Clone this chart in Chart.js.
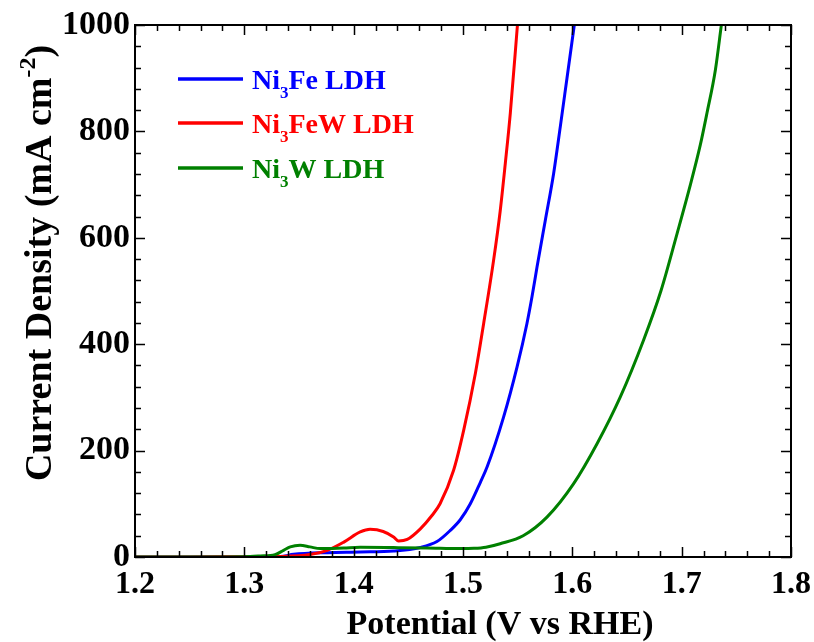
<!DOCTYPE html>
<html><head><meta charset="utf-8">
<script src="https://cdn.jsdelivr.net/npm/chart.js@4"></script>
<style>html,body{margin:0;padding:0;background:#fff}#wrap{width:814px;height:642px;position:relative}</style>
</head><body><div id="wrap"><canvas id="c" width="814" height="642"></canvas></div>
<script>
// ---- data ----
const seriesNames = ["Ni3Fe LDH", "Ni3FeW LDH", "Ni3W LDH"];
const seriesColors = ["#0000FF", "#FF0000", "#008000"];

const ni3fePotential = [1.20, 1.25, 1.30, 1.333, 1.345, 1.376, 1.406, 1.4365, 1.461, 1.4762, 1.4884, 1.4975, 1.5067, 1.5158, 1.522, 1.5371, 1.5494, 1.5585, 1.5631, 1.5677, 1.5753, 1.5829, 1.589, 1.5951, 1.6018];
const ni3feCurrent   = [0, 0, 0.5, 1, 5, 8.2, 9.4, 11.3, 18, 29, 50, 70, 100, 140, 169, 263, 357, 439, 489, 545, 633, 721, 809, 900, 1000];

const ni3fewPotential = [1.20, 1.25, 1.30, 1.333, 1.36, 1.376, 1.391, 1.406, 1.415, 1.427, 1.4365, 1.441, 1.449, 1.461, 1.4716, 1.479, 1.4914, 1.5006, 1.5113, 1.5189, 1.528, 1.534, 1.5387, 1.5433, 1.5498];
const ni3fewCurrent   = [0, 0, 0.5, 1, 4.5, 12.6, 28, 47, 52, 48, 37.6, 30, 33, 53, 78, 100, 163, 238, 345, 439, 558, 650, 740, 835, 1000];

const ni3wPotential = [1.20, 1.25, 1.30, 1.3146, 1.328, 1.3359, 1.342, 1.351, 1.36, 1.3694, 1.3908, 1.406, 1.4365, 1.467, 1.4975, 1.51, 1.521, 1.534, 1.555, 1.5768, 1.6012, 1.6226, 1.6439, 1.6652, 1.681, 1.6958, 1.708, 1.7171, 1.7232, 1.7308, 1.7363];
const ni3wCurrent   = [0, 0, 0.5, 2, 4.5, 12.6, 19, 22, 19, 15.8, 17, 18.2, 17.7, 17, 15.8, 16.3, 18.5, 25, 40, 75, 138, 213, 301, 408, 500, 608, 700, 775, 835, 915, 1000];

const xTickLabels = ["1.2", "1.3", "1.4", "1.5", "1.6", "1.7", "1.8"];
const yTickLabels = ["0", "200", "400", "600", "800", "1000"];
const xTitle = "Potential (V vs RHE)";
const yTitleMain = "Current Density (mA cm";
const yTitleSup = "-2";
const yTitleEnd = ")";

// ---- chart ----
const FONT = "'Liberation Serif', 'Times New Roman', serif";
function pts(xs, ys) { return xs.map((x, i) => ({ x: x, y: ys[i] })); }

const datasets = [
  { label: seriesNames[0], data: pts(ni3fePotential, ni3feCurrent), borderColor: seriesColors[0], order: 2 },
  { label: seriesNames[1], data: pts(ni3fewPotential, ni3fewCurrent), borderColor: seriesColors[1], order: 1 },
  { label: seriesNames[2], data: pts(ni3wPotential, ni3wCurrent), borderColor: seriesColors[2], order: 0 }
].map(d => Object.assign(d, { borderWidth: 3, pointRadius: 0, fill: false, cubicInterpolationMode: 'monotone', backgroundColor: d.borderColor }));

function drawRich(ctx, parts, x, y, size) {
  let cx = x;
  for (const p of parts) {
    if (p.mode === 'n') {
      ctx.font = "bold " + size + "px " + FONT;
      ctx.fillText(p.t, cx, y);
    } else {
      const s = Math.round(size * 0.62);
      ctx.font = "bold " + s + "px " + FONT;
      ctx.fillText(p.t, cx, p.mode === 'sub' ? y + size * 0.33 : y - size * 0.42);
    }
    cx += ctx.measureText(p.t).width;
  }
  return cx - x;
}
function measureRich(ctx, parts, size) {
  let w = 0;
  for (const p of parts) {
    ctx.font = "bold " + (p.mode === 'n' ? size : Math.round(size * 0.62)) + "px " + FONT;
    w += ctx.measureText(p.t).width;
  }
  return w;
}
function chemParts(name) {
  const out = [];
  const re = /([A-Za-z])(\d+)/g;
  let last = 0, m;
  while ((m = re.exec(name)) !== null) {
    out.push({ t: name.slice(last, m.index + 1), mode: 'n' });
    out.push({ t: m[2], mode: 'sub' });
    last = m.index + m[0].length;
  }
  out.push({ t: name.slice(last), mode: 'n' });
  return out.filter(p => p.t.length);
}

const decor = {
  id: 'decor',
  afterDraw(chart) {
    const ctx = chart.ctx, a = chart.chartArea;
    const xs = chart.scales.x, ys = chart.scales.y;
    ctx.save();
    ctx.strokeStyle = '#000';
    ctx.lineWidth = 1.5;
    ctx.beginPath();
    for (let i = 0; i <= 30; i++) {
      const v = 1.2 + i * 0.02;
      const px = Math.round(xs.getPixelForValue(v)) + 0.5;
      const len = (i % 5 === 0) ? 10 : 6;
      ctx.moveTo(px, a.bottom); ctx.lineTo(px, a.bottom - len);
      ctx.moveTo(px, a.top); ctx.lineTo(px, a.top + len);
    }
    for (let i = 0; i <= 25; i++) {
      const v = i * 40;
      const py = Math.round(ys.getPixelForValue(v)) + 0.5;
      const len = (i % 5 === 0) ? 10 : 6;
      ctx.moveTo(a.left, py); ctx.lineTo(a.left + len, py);
      ctx.moveTo(a.right, py); ctx.lineTo(a.right - len, py);
    }
    ctx.stroke();
    ctx.lineWidth = 2;
    ctx.strokeRect(a.left, a.top, a.right - a.left, a.bottom - a.top);

    // x title
    ctx.fillStyle = '#000';
    ctx.textAlign = 'left';
    ctx.textBaseline = 'alphabetic';
    ctx.font = "bold 34px " + FONT;
    const xw = ctx.measureText(xTitle).width;
    ctx.fillText(xTitle, 500 - xw / 2, 634);

    // y title (rotated)
    const yParts = [{ t: yTitleMain, mode: 'n' }, { t: yTitleSup, mode: 'sup' }, { t: yTitleEnd, mode: 'n' }];
    const ySize = 38;
    const yw = measureRich(ctx, yParts, ySize);
    ctx.save();
    ctx.translate(51, 263);
    ctx.rotate(-Math.PI / 2);
    drawRich(ctx, yParts, -yw / 2, 0, ySize);
    ctx.restore();

    // legend
    const lineY = [79, 123, 168];
    chart.data.datasets.forEach((d, i) => {
      ctx.strokeStyle = d.borderColor;
      ctx.lineWidth = 3.5;
      ctx.beginPath();
      ctx.moveTo(178, lineY[i]); ctx.lineTo(243, lineY[i]);
      ctx.stroke();
      ctx.fillStyle = d.borderColor;
      drawRich(ctx, chemParts(d.label), 252, lineY[i] + 10, 28);
    });
    ctx.restore();
  }
};

new Chart(document.getElementById('c'), {
  type: 'line',
  data: { datasets: datasets },
  options: {
    responsive: false,
    animation: false,
    devicePixelRatio: 1,
    layout: { padding: { top: 25, right: 23, left: 0, bottom: 0 } },
    plugins: { legend: { display: false }, tooltip: { enabled: false }, title: { display: false } },
    scales: {
      x: {
        type: 'linear', min: 1.2, max: 1.8,
        afterFit: s => { s.height = 85; s.paddingLeft = 0; s.paddingRight = 0; },
        afterBuildTicks: s => { s.ticks = xTickLabels.map(t => ({ value: parseFloat(t) })); },
        ticks: { callback: (v, i) => xTickLabels[i], color: '#000', padding: 9, maxRotation: 0, autoSkip: false,
                 font: { family: FONT, weight: 'bold', size: 32 } },
        grid: { display: false, drawTicks: false },
        border: { display: false }
      },
      y: {
        type: 'linear', min: 0, max: 1000,
        afterFit: s => { s.width = 135; s.paddingTop = 0; s.paddingBottom = 0; },
        afterBuildTicks: s => { s.ticks = yTickLabels.map(t => ({ value: parseFloat(t) })); },
        ticks: { callback: (v, i) => yTickLabels[i], color: '#000', padding: 5, autoSkip: false,
                 font: { family: FONT, weight: 'bold', size: 34 } },
        grid: { display: false, drawTicks: false },
        border: { display: false }
      }
    }
  },
  plugins: [decor]
});
</script></body></html>
